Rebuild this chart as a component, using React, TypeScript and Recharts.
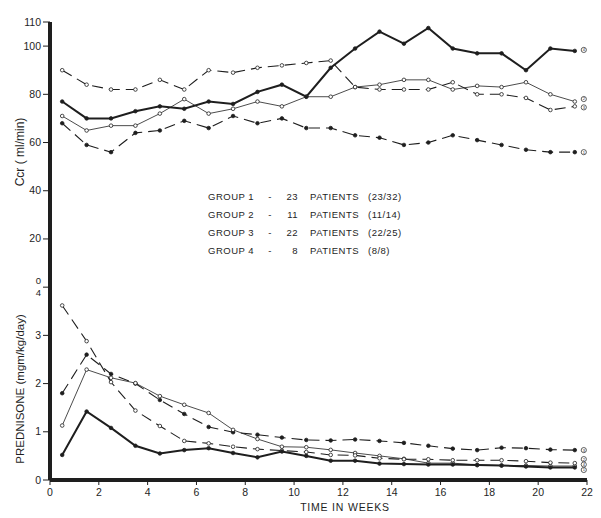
import { LineChart, Line, XAxis, YAxis } from "recharts";

const weeks = [0.5, 1.5, 2.5, 3.5, 4.5, 5.5, 6.5, 7.5, 8.5, 9.5, 10.5, 11.5, 12.5, 13.5, 14.5, 15.5, 16.5, 17.5, 18.5, 19.5, 20.5, 21.5];

// creatinine clearance (ml/min)
const ccrGroup1 = [68, 59, 56, 64, 65, 69, 66, 71, 68, 70, 66, 66, 63, 62, 59, 60, 63, 61, 59, 57, 56, 56];
const ccrGroup2 = [71, 65, 67, 67, 72, 78, 72, 74, 77, 75, 79, 79, 83, 84, 86, 86, 82, 83.5, 83, 85, 80, 77];
const ccrGroup3 = [90, 84, 82, 82, 86, 82, 90, 89, 91, 92, 93, 94, 83, 82, 82, 82, 85, 80, 80, 78.5, 73.5, 75];
const ccrGroup4 = [77, 70, 70, 73, 75, 74, 77, 76, 81, 84, 79, 91, 99, 106, 101, 107.5, 99, 97, 97, 90, 99, 98];

// prednisone (mgm/kg/day)
const predGroup1 = [1.8, 2.6, 2.2, 2.0, 1.66, 1.37, 1.1, 0.99, 0.94, 0.88, 0.83, 0.82, 0.84, 0.81, 0.77, 0.71, 0.65, 0.62, 0.67, 0.66, 0.63, 0.62];
const predGroup2 = [1.13, 2.29, 2.12, 2.01, 1.74, 1.56, 1.39, 1.04, 0.85, 0.69, 0.68, 0.625, 0.56, 0.5, 0.44, 0.35, 0.35, 0.31, 0.3, 0.3, 0.29, 0.29];
const predGroup3 = [3.62, 2.88, 2.03, 1.44, 1.12, 0.81, 0.76, 0.69, 0.64, 0.61, 0.58, 0.52, 0.51, 0.45, 0.43, 0.43, 0.41, 0.41, 0.41, 0.39, 0.36, 0.35];
const predGroup4 = [0.52, 1.42, 1.08, 0.71, 0.55, 0.62, 0.66, 0.56, 0.47, 0.59, 0.5, 0.4, 0.4, 0.34, 0.33, 0.32, 0.32, 0.31, 0.3, 0.28, 0.26, 0.26];

const xTicks = [0, 2, 4, 6, 8, 10, 12, 14, 16, 18, 20, 22];
const ccrTicks = [0, 20, 40, 60, 80, 100, 110];
const predTicks = [0, 1, 2, 3];

const legendRows = [
  { group: "GROUP 1", count: "23", ratio: "(23/32)" },
  { group: "GROUP 2", count: "11", ratio: "(11/14)" },
  { group: "GROUP 3", count: "22", ratio: "(22/25)" },
  { group: "GROUP 4", count: "8", ratio: "(8/8)" },
];

const data = weeks.map((week, i) => ({
  week,
  ccr1: ccrGroup1[i],
  ccr2: ccrGroup2[i],
  ccr3: ccrGroup3[i],
  ccr4: ccrGroup4[i],
  pred1: predGroup1[i],
  pred2: predGroup2[i],
  pred3: predGroup3[i],
  pred4: predGroup4[i],
}));

const INK = "#1e1e1e";
const FONT = "'Liberation Sans', Arial, sans-serif";
// prednisone 0..4 sits below Ccr 0, 20 Ccr units per mg
const predToCcr = (p: number) => (p - 4) * 20;

const YTick = ({ x, y, payload }: any) => {
  const v = payload.value;
  const style = { fontSize: 10.5, fill: INK, fontFamily: FONT };
  if (v === 0) {
    // shared tick: Ccr 0 over prednisone 4
    return (
      <g>
        <text x={x} y={y - 3} textAnchor="end" {...style} fontSize={9.5}>0</text>
        <text x={x} y={y + 8.5} textAnchor="end" {...style} fontSize={9.5}>4</text>
      </g>
    );
  }
  const label = v < 0 ? String((v + 80) / 20) : String(v);
  return (
    <text x={x} y={y} dy={3.5} textAnchor="end" {...style}>
      {label}
    </text>
  );
};

const endLabel = (num: string, dy: number) => (props: any) => {
  if (props.index !== weeks.length - 1) return <g />;
  const cx = props.x + 9;
  const cy = props.y + dy;
  return (
    <g>
      <circle cx={cx} cy={cy} r={2.6} fill="#fff" stroke={INK} strokeWidth={0.7} />
      <text x={cx} y={cy + 1.4} textAnchor="middle" fontSize={4} fill={INK} fontFamily={FONT}>
        {num}
      </text>
    </g>
  );
};

const filledDot = { r: 1.8, fill: INK, stroke: INK, strokeWidth: 0.8, strokeDasharray: "0" };
const openDot = { r: 1.8, fill: "#fff", stroke: INK, strokeWidth: 0.8, strokeDasharray: "0" };
const DASH = "11 6";

const App = () => {
  const allYTicks = [...predTicks.map(predToCcr), ...ccrTicks];
  return (
    <div style={{ position: "absolute", left: 0, top: 0, width: 601, height: 518, background: "#fff" }}>
      <LineChart width={601} height={518} data={data} margin={{ top: 22, right: 14, left: 0, bottom: 0 }}>
        <XAxis
          dataKey="week"
          type="number"
          domain={[0, 22]}
          ticks={xTicks}
          height={38}
          tickSize={5}
          tickMargin={4}
          axisLine={{ stroke: INK, strokeWidth: 4 }}
          tickLine={{ stroke: INK, strokeWidth: 1 }}
          tick={{ fontSize: 10.5, fill: INK, fontFamily: FONT }}
        />
        <YAxis
          yAxisId="ccr"
          type="number"
          domain={[-80, 110]}
          ticks={allYTicks}
          interval={0}
          width={50}
          tickSize={7}
          tickMargin={2}
          axisLine={{ stroke: INK, strokeWidth: 4 }}
          tickLine={{ stroke: INK, strokeWidth: 1 }}
          tick={<YTick />}
        />
        <YAxis yAxisId="pred" type="number" domain={[0, 9.5]} hide />

        <Line yAxisId="ccr" dataKey="ccr1" stroke={INK} strokeWidth={1.1} strokeDasharray={DASH} dot={filledDot} isAnimationActive={false} label={endLabel("1", 0)} />
        <Line yAxisId="ccr" dataKey="ccr2" stroke={INK} strokeWidth={0.8} dot={openDot} isAnimationActive={false} label={endLabel("2", -2.5)} />
        <Line yAxisId="ccr" dataKey="ccr3" stroke={INK} strokeWidth={1.1} strokeDasharray={DASH} dot={openDot} isAnimationActive={false} label={endLabel("3", 1)} />
        <Line yAxisId="ccr" dataKey="ccr4" stroke={INK} strokeWidth={2} dot={filledDot} isAnimationActive={false} label={endLabel("4", -1)} />

        <Line yAxisId="pred" dataKey="pred1" stroke={INK} strokeWidth={1.1} strokeDasharray={DASH} dot={filledDot} isAnimationActive={false} label={endLabel("3", 0)} />
        <Line yAxisId="pred" dataKey="pred2" stroke={INK} strokeWidth={0.8} dot={openDot} isAnimationActive={false} label={endLabel("4", -1.5)} />
        <Line yAxisId="pred" dataKey="pred3" stroke={INK} strokeWidth={1.1} strokeDasharray={DASH} dot={openDot} isAnimationActive={false} label={endLabel("2", -4)} />
        <Line yAxisId="pred" dataKey="pred4" stroke={INK} strokeWidth={2} dot={filledDot} isAnimationActive={false} label={endLabel("1", 2.5)} />
      </LineChart>

      <svg width={601} height={518} style={{ position: "absolute", left: 0, top: 0, pointerEvents: "none" }}>
        <text
          transform="translate(24,152) rotate(-90)"
          textAnchor="middle"
          fontSize={12}
          fill={INK}
          fontFamily={FONT}
        >
          Ccr ( ml/min)
        </text>
        <text
          transform="translate(24,389) rotate(-90)"
          textAnchor="middle"
          fontSize={11.5}
          fill={INK}
          fontFamily={FONT}
        >
          PREDNISONE (mgm/kg/day)
        </text>
        <text x={345} y={511} textAnchor="middle" fontSize={10.5} letterSpacing={0.8} fill={INK} fontFamily={FONT}>
          TIME IN WEEKS
        </text>
        {legendRows.map((row, i) => {
          const y = 199.5 + i * 18;
          return (
            <g key={row.group} fontSize={9.5} fill={INK} fontFamily={FONT} letterSpacing={0.5}>
              <text x={208} y={y}>{row.group}</text>
              <text x={270} y={y} textAnchor="middle">-</text>
              <text x={298} y={y} textAnchor="end">{row.count}</text>
              <text x={310} y={y}>PATIENTS</text>
              <text x={368} y={y}>{row.ratio}</text>
            </g>
          );
        })}
      </svg>
    </div>
  );
};

export default App;
